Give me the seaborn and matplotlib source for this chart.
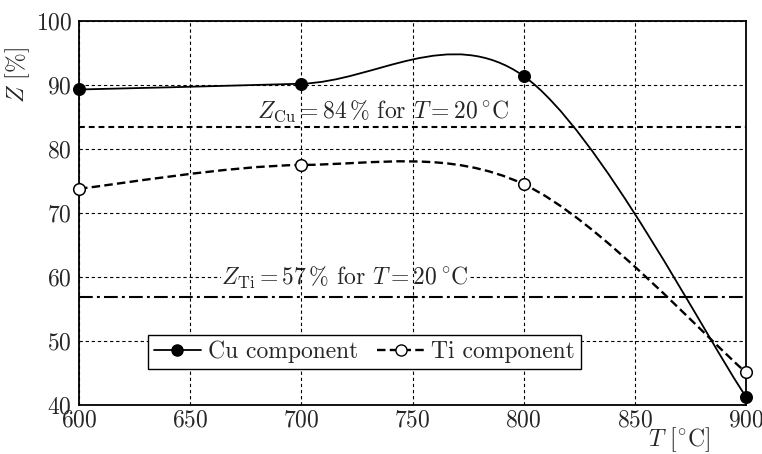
import numpy as np
import seaborn as sns
import matplotlib.pyplot as plt
from matplotlib.path import Path
from matplotlib.patches import PathPatch
from matplotlib.lines import Line2D

# data
temp = [600, 700, 800, 900]
z_cu = [89.3, 90.2, 91.4, 41.3]
z_ti = [73.8, 77.5, 74.5, 45.1]
z_cu_20 = 83.4
z_ti_20 = 56.9

sns.set_style('white')
plt.rcParams['font.family'] = ['cmr10', 'DejaVu Serif']
plt.rcParams['mathtext.fontset'] = 'cm'
plt.rcParams['axes.formatter.use_mathtext'] = True
plt.rcParams['axes.unicode_minus'] = False

FS = 17


def smooth_path(x, y):
    # smoothed line (catmull-rom style bezier, same as "smooth line" in office charts)
    p = np.column_stack([x, y]).astype(float)
    ext = np.vstack([p[0], p, p[-1]])
    verts = [tuple(p[0])]
    codes = [Path.MOVETO]
    for i in range(len(p) - 1):
        c1 = p[i] + (ext[i + 2] - ext[i]) / 6
        c2 = p[i + 1] - (ext[i + 3] - ext[i + 1]) / 6
        verts += [tuple(c1), tuple(c2), tuple(p[i + 1])]
        codes += [Path.CURVE4] * 3
    return Path(verts, codes)


fig = plt.figure(figsize=(7.62, 4.54), dpi=100)
ax = fig.add_axes([0.1037, 0.108, 0.8753, 0.8457])

ti_dash = (0, (3.6, 1.8))
ax.add_patch(PathPatch(smooth_path(temp, z_cu), fill=False, color='black', lw=1.3, zorder=4))
ax.add_patch(PathPatch(smooth_path(temp, z_ti), fill=False, color='black', lw=1.7,
                       linestyle=ti_dash, zorder=4))

sns.scatterplot(x=temp, y=z_cu, ax=ax, color='black', edgecolor='black', s=70,
                linewidth=1, zorder=5, clip_on=False)
sns.scatterplot(x=temp, y=z_ti, ax=ax, color='white', edgecolor='black', s=70,
                linewidth=1.1, zorder=5, clip_on=False)

ax.axhline(z_cu_20, color='black', lw=1.5, linestyle=(0, (2.8, 1.9)), zorder=4)
ax.axhline(z_ti_20, color='black', lw=1.5, linestyle=(0, (6.6, 2.0, 1.4, 2.0)), zorder=4)

ax.text(680, 85.9, r'$Z_{\mathrm{Cu}}=84\,\%$ for $T=20\,^{\circ}\mathrm{C}$',
        fontsize=FS, va='center', ha='left', zorder=2.5,
        bbox=dict(facecolor='white', edgecolor='none', pad=0))
ax.text(664, 59.8, r'$Z_{\mathrm{Ti}}=57\,\%$ for $T=20\,^{\circ}\mathrm{C}$',
        fontsize=FS, va='center', ha='left', zorder=2.5,
        bbox=dict(facecolor='white', edgecolor='none', pad=0))

ax.set_xlim(600, 900)
ax.set_ylim(40, 100)
ax.set_xticks(range(600, 901, 50))
ax.set_yticks(range(40, 101, 10))
ax.grid(True, color='black', lw=0.8, linestyle=(0, (3, 2.5)))
ax.set_axisbelow(True)
ax.xaxis.set_zorder(3)
ax.yaxis.set_zorder(0.5)
ax.tick_params(axis='both', length=0, labelsize=FS)
ax.tick_params(axis='x', pad=3)
ax.tick_params(axis='y', pad=5)
for sp in ax.spines.values():
    sp.set_linewidth(1.3)
    sp.set_color('black')

ax.set_ylabel(r'$Z$ [%]', fontsize=FS)
ax.yaxis.set_label_coords(-0.070, 0.86)
ax.set_xlabel(r'$T$ [$^{\circ}$C]', fontsize=FS)
ax.xaxis.set_label_coords(0.90, -0.052)

handles = [
    Line2D([], [], color='black', lw=1.3, marker='o', markersize=8,
           markerfacecolor='black', markeredgecolor='black'),
    Line2D([], [], color='black', lw=1.7, linestyle=ti_dash, marker='o', markersize=8,
           markerfacecolor='white', markeredgecolor='black'),
]
leg = ax.legend(handles, ['Cu component', 'Ti component'], loc='lower left',
                bbox_to_anchor=(0.103, 0.094), borderaxespad=0, ncol=2, fontsize=FS,
                fancybox=False, framealpha=1, edgecolor='black', handlelength=2.0,
                handletextpad=0.3, columnspacing=0.8, borderpad=0.25)
leg.get_frame().set_linewidth(1.0)
leg.set_zorder(6)

plt.savefig('out.png', dpi=100)
